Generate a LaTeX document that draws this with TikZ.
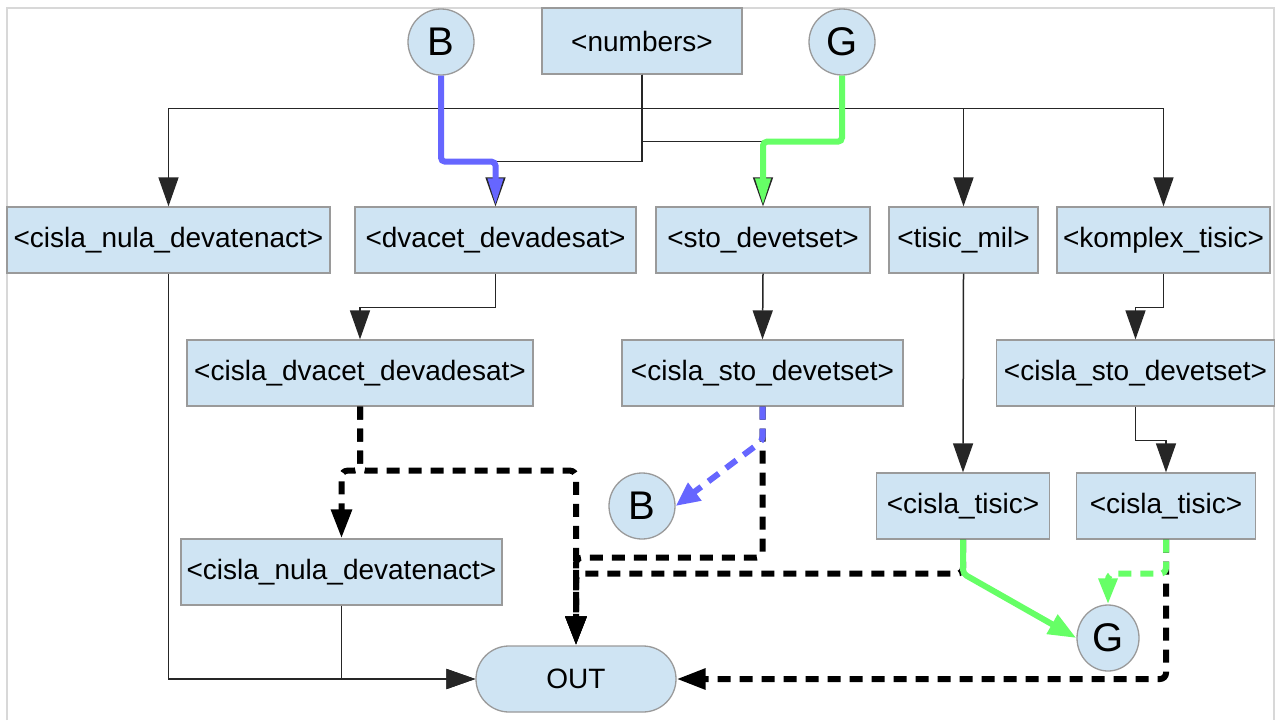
\documentclass[tikz,border=0pt]{standalone}
\usepackage{fontspec}
\setmainfont{Liberation Sans}
\usetikzlibrary{arrows.meta,shapes.geometric}
\definecolor{boxfill}{HTML}{CFE4F3}
\definecolor{boxdraw}{HTML}{9A9A9A}
\definecolor{bl}{HTML}{6666FF}
\definecolor{gr}{HTML}{66FF66}
\definecolor{framecol}{HTML}{D8D8D8}
\begin{document}
\begin{tikzpicture}[x=1pt,y=-1pt,
  box/.style={draw=boxdraw, fill=boxfill, line width=1.3pt, minimum height=66pt, inner sep=0pt, font=\fontsize{28}{30}\selectfont},
  outbox/.style={box, rounded corners=33pt, minimum width=200pt},
  circ/.style={ellipse, draw=boxdraw, fill=boxfill, line width=1.3pt, minimum width=66pt, minimum height=66pt, inner sep=0pt, font=\fontsize{40}{42}\selectfont},
  conn/.style={draw=black!85, line width=1.5pt, -{Triangle[length=29pt,width=20pt]}},
  dconn/.style={draw=black, line width=6pt, dash pattern=on 13pt off 9pt, rounded corners=6pt, -{Triangle[length=29pt,width=20pt]}},
  bconn/.style={draw=bl, line width=6pt, rounded corners=4pt, -{Triangle[length=28pt,width=14pt]}},
  gconn/.style={draw=gr, line width=6pt, rounded corners=4pt, -{Triangle[length=28pt,width=14pt]}},
  bdconn/.style={draw=bl, line width=6pt, dash pattern=on 13pt off 9pt, rounded corners=4pt, -{Triangle[length=24pt,width=21pt]}},
  gdconn/.style={draw=gr, line width=6pt, dash pattern=on 13pt off 9pt, rounded corners=6pt, -{Triangle[length=26pt,width=18pt]}},
  gsconn/.style={draw=gr, line width=6pt, rounded corners=4pt, -{Triangle[length=28pt,width=21pt]}}
]
\useasboundingbox (0,0) rectangle (1276,720);
\fill[white] (0,0) rectangle (1276,720);
\draw[framecol, line width=2pt] (7,720) -- (7,8) -- (1274,8) -- (1274,720);

% nodes
\node[circ] (B1) at (441,42) {B};
\node[box, minimum width=200pt] (num) at (642,41) {<numbers>};
\node[circ] (G1) at (842,42) {G};

\node[box, minimum width=323pt] (n1) at (168.5,240) {<cisla\_nula\_devatenact>};
\node[box, minimum width=281pt] (dv) at (495.5,240) {<dvacet\_devadesat>};
\node[box, minimum width=214pt] (sto) at (763,240) {<sto\_devetset>};
\node[box, minimum width=149pt] (tm) at (963.5,240) {<tisic\_mil>};
\node[box, minimum width=213pt] (kt) at (1163.5,240) {<komplex\_tisic>};

\node[box, minimum width=346pt] (cdv) at (360,373) {<cisla\_dvacet\_devadesat>};
\node[box, minimum width=281pt] (cs1) at (762.5,373) {<cisla\_sto\_devetset>};
\node[box, minimum width=278pt] (cs2) at (1135.5,373) {<cisla\_sto\_devetset>};

\node[circ] (B2) at (642,506) {B};
\node[box, minimum width=173pt] (ct1) at (963,506) {<cisla\_tisic>};
\node[box, minimum width=179pt] (ct2) at (1166,506) {<cisla\_tisic>};

\node[box, minimum width=321pt] (cn2) at (341.5,572) {<cisla\_nula\_devatenact>};
\node[circ, minimum width=62pt] (G2) at (1108,638) {G};
\node[outbox] (out) at (576,679) {OUT};

% thin connectors
\draw[conn] (num.south) -- ++(0,34) -| (n1.north);
\draw[conn] (num.south) -- ++(0,34) -| (tm.north);
\draw[conn] (num.south) -- ++(0,34) -| (kt.north);
\draw[conn] (num.south) -- ++(0,67) -| (sto.north);
\draw[conn] (num.south) -- ++(0,87) -| (dv.north);
\draw[conn] (dv.south) -- ++(0,34) -| (cdv.north);
\draw[conn] (sto.south) -- (cs1.north);
\draw[conn] (kt.south) -- ++(0,34) -| (cs2.north);
\draw[conn] (tm.south) -- (ct1.north);
\draw[conn] (cs2.south) -- ++(0,34) -| (ct2.north);
\draw[conn] (n1.south) |- (out.west);
\draw[conn] (cn2.south) |- (out.west);

% coloured solid connectors from the top circles
\draw[bconn] (B1.south) -- ++(0,86) -| (dv.north);
\draw[gconn] (G1.south) -- ++(0,66) -| (sto.north);

% thick dashed connectors
\draw[dconn] (cdv.south) -- ++(0,64) -| (cn2.north);
\draw[dconn] (cdv.south) -- ++(0,64) -| (out.north);
\draw[dconn] (cs1.south) -- ++(0,151) -| (out.north);
\draw[dconn] (ct1.south) -- ++(0,34) -| (out.north);
\draw[dconn] (ct2.south) |- (out.east);

% coloured connectors to the lower circles
\draw[bdconn] (cs1.south) -- ++(0,34) -- (B2.east);
\draw[gsconn] (ct1.south) -- ++(0,34) -- (G2.west);
\draw[gdconn] (ct2.south) -- ++(0,34) -| (G2.north);
\end{tikzpicture}
\end{document}
